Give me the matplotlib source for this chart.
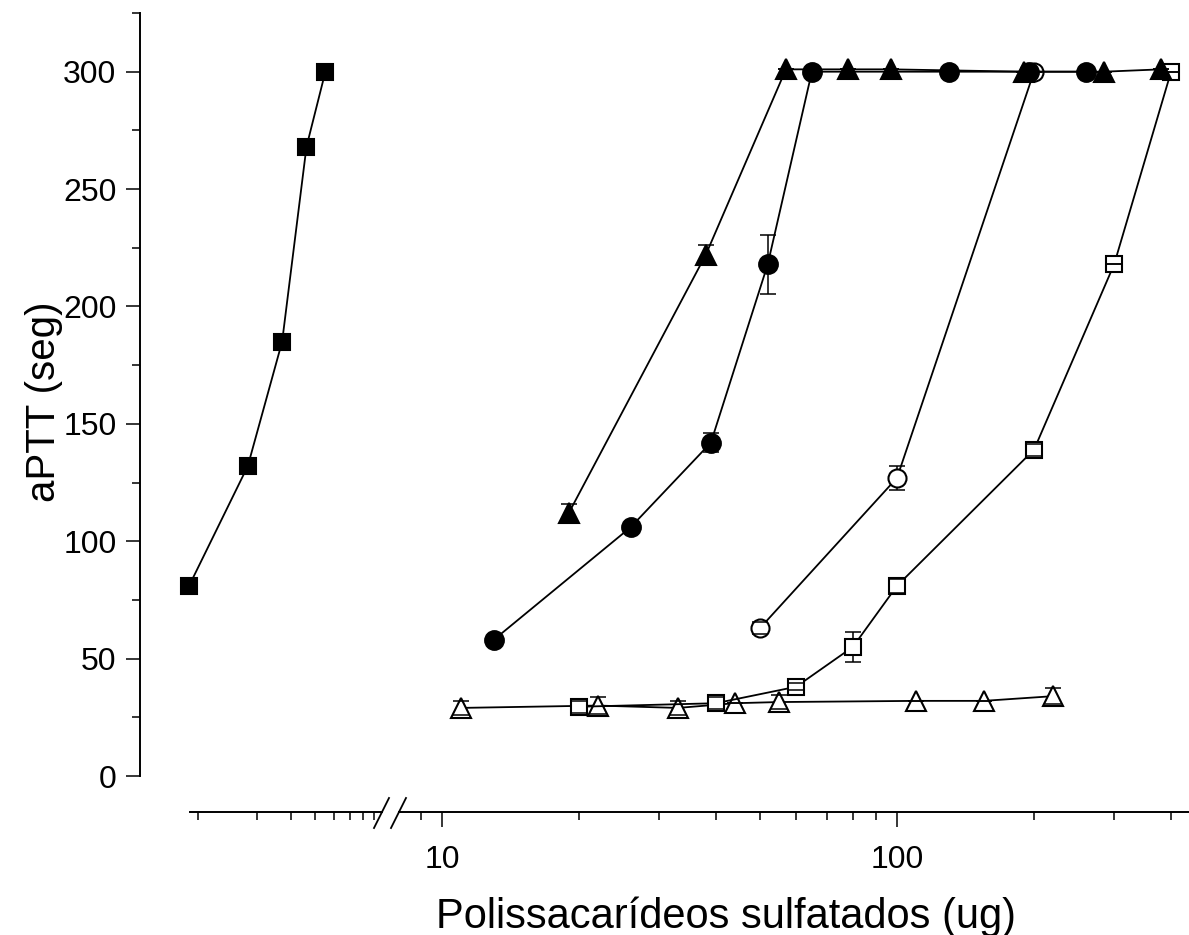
import matplotlib
matplotlib.use("Agg")
import matplotlib.pyplot as plt
from matplotlib.lines import Line2D
from matplotlib.ticker import NullFormatter, FixedLocator

plt.rcParams['font.family'] = ['Liberation Sans', 'DejaVu Sans']

### data -------------------------------------------------------------------
# heparin (left, broken part of the axis)
hep_x = [0.9, 1.8, 2.7, 3.6, 4.5]
hep_y = [81, 132, 185, 268, 300]

# filled triangles
ftri_x = [19, 38, 57, 78, 97, 190, 285, 380]
ftri_y = [112, 222, 301, 301, 301, 300, 300, 301]
ftri_err = [4, 4, 0, 0, 0, 0, 0, 0]

# filled circles
fcir_x = [13, 26, 39, 52, 65, 130, 195, 260]
fcir_y = [58, 106, 142, 218, 300, 300, 300, 300]
fcir_err = [0, 0, 4, 12.5, 0, 0, 0, 0]

# open circles
ocir_x = [50, 100, 200]
ocir_y = [63, 127, 300]
ocir_err = [2.5, 5, 0]

# open squares
osq_x = [20, 40, 60, 80, 100, 200, 300, 400]
osq_y = [29.5, 31, 38, 55, 81, 139, 218, 300]
osq_err = [2.5, 2.5, 1.5, 6.5, 3, 2.5, 0, 0]

# open triangles
otri_x = [11, 22, 33, 44, 55, 110, 155, 220]
otri_y = [29, 30, 29, 31, 31.5, 32, 32, 34]
otri_err = [3, 3.5, 3, 0, 3, 0, 0, 3.5]

yticks_major = [0, 50, 100, 150, 200, 250, 300]
yticks_minor = [25, 75, 125, 175, 225, 275, 325]

### figure -----------------------------------------------------------------
W, H = 1189, 935
fig = plt.figure(figsize=(W / 100, H / 100), dpi=100)

def px_box(x0, x1, ytop, ybot):
    return [x0 / W, 1 - ybot / H, (x1 - x0) / W, (ybot - ytop) / H]

ax1 = fig.add_axes(px_box(140, 385, 13, 776))
ax2 = fig.add_axes(px_box(399, 1189, 13, 776))

lw = 1.3
for ax in (ax1, ax2):
    ax.set_xscale('log')
    ax.set_ylim(0, 325)
    ax.patch.set_visible(False)
    ax.spines['top'].set_visible(False)
    ax.spines['right'].set_visible(False)
    ax.spines['bottom'].set_position(('outward', 36 * 0.72))
    ax.spines['bottom'].set_linewidth(1.4)
    ax.spines['left'].set_linewidth(1.4)
    ax.tick_params(which='both', direction='out', width=1.1, labelsize=23, colors='k')

ax1.set_xlim(0.504, 9.10)
ax2.set_xlim(8.05, 438)
ax1.spines['bottom'].set_bounds(0.91, 8.78)

# y axis only on the left part
ax1.set_yticks(yticks_major)
ax1.set_yticks(yticks_minor, minor=True)
ax1.tick_params(axis='y', which='major', length=10, pad=7)
ax1.tick_params(axis='y', which='minor', length=6)
ax2.spines['left'].set_visible(False)
ax2.set_yticks([])
ax2.set_yticks([], minor=True)

# x ticks
ax1.xaxis.set_major_locator(FixedLocator([1, 2, 3, 4, 5, 6, 7, 8]))
ax1.xaxis.set_minor_locator(FixedLocator([]))
ax1.xaxis.set_major_formatter(NullFormatter())
ax1.tick_params(axis='x', which='major', length=6)

ax2.xaxis.set_major_locator(FixedLocator([10, 100]))
ax2.xaxis.set_minor_locator(FixedLocator([8, 9, 20, 30, 40, 50, 60, 70, 80, 90, 200, 300, 400]))
ax2.xaxis.set_major_formatter(matplotlib.ticker.FuncFormatter(lambda v, p: f"{v:g}"))
ax2.xaxis.set_minor_formatter(NullFormatter())
ax2.tick_params(axis='x', which='major', length=11, pad=13)
ax2.tick_params(axis='x', which='minor', length=6)

### series -----------------------------------------------------------------
def series(ax, x, y, err, marker, ms, filled):
    fc = 'k' if filled else 'white'
    ax.plot(x, y, color='k', lw=lw, marker=marker, ms=ms, mfc=fc, mec='k',
            mew=1.5, zorder=3, clip_on=False)
    if err is not None:
        _, caps, bars = ax.errorbar(x, y, yerr=err, fmt='none', ecolor='k',
                                    elinewidth=1.1, capsize=5.5, capthick=1.1,
                                    zorder=2)
        for c in caps:
            c.set_zorder(4)

series(ax1, hep_x, hep_y, None, 's', 11.5, True)
series(ax2, otri_x, otri_y, otri_err, '^', 15, False)
series(ax2, osq_x, osq_y, osq_err, 's', 11, False)
series(ax2, ocir_x, ocir_y, ocir_err, 'o', 13, False)
series(ax2, fcir_x, fcir_y, fcir_err, 'o', 13.5, True)
series(ax2, ftri_x, ftri_y, ftri_err, '^', 15, True)

### axis break marks -------------------------------------------------------
for x0 in (374, 391):
    fig.add_artist(Line2D([x0 / W, (x0 + 15) / W], [1 - 828 / H, 1 - 798 / H],
                          transform=fig.transFigure, color='k', lw=1.3))

### labels -----------------------------------------------------------------
fig.text(726 / W, 1 - 928 / H, "Polissacarídeos sulfatados (ug)", fontsize=30,
         ha='center', va='baseline')
fig.text(44 / W, 1 - 402 / H, "aPTT (seg)", fontsize=29, rotation=90,
         ha='center', va='center')

fig.savefig("out.png", dpi=100)
